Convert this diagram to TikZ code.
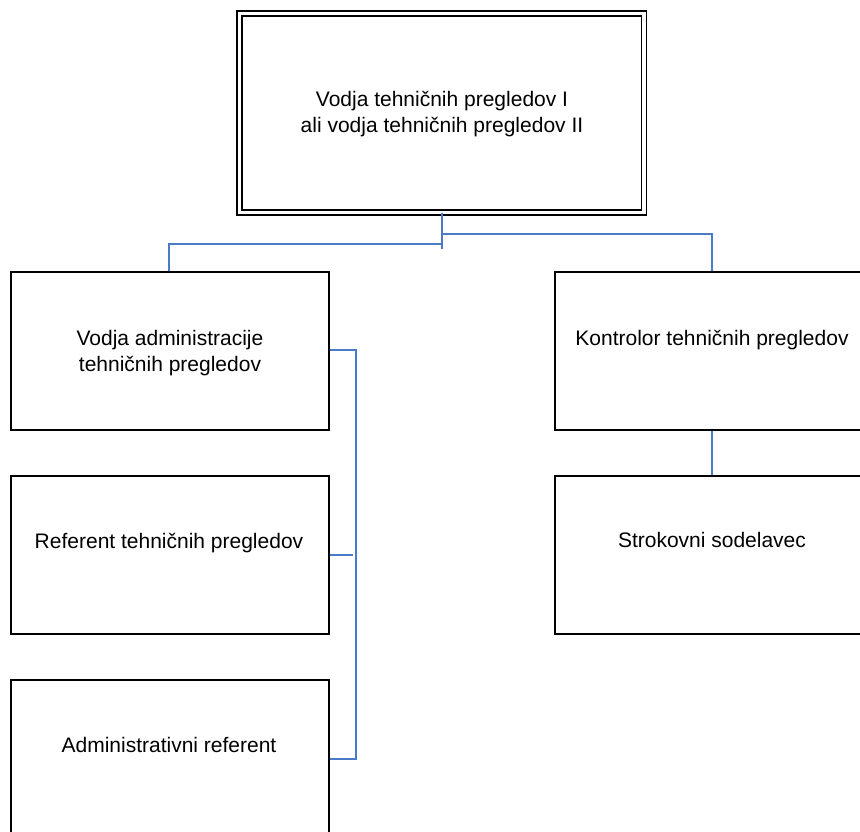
\documentclass[tikz,border=0pt]{standalone}
\usepackage{fontspec}
\setmainfont{Liberation Sans}
\begin{document}
\begin{tikzpicture}[x=1pt,y=-1pt,
  box/.style={draw=black,line width=1.6pt,rectangle,minimum width=318pt,minimum height=158pt,inner sep=0pt,anchor=north west},
  headbox/.style={draw=black,line width=1.4pt,double=white,double distance=3.4pt,rectangle,minimum width=404.5pt,minimum height=199pt,inner sep=0pt},
  label/.style={font=\fontsize{21}{26}\selectfont,inner sep=0pt,anchor=base},
  link/.style={draw=linkblue,line width=1.6pt}]
\definecolor{linkblue}{HTML}{4A7AC8}
\useasboundingbox (0,0) rectangle (860,832);
\begin{scope}
\clip (0,0) rectangle (860,832);

% head of the unit
\node[headbox] (head) at (441.75,113) {};
\node[label] (headtxt) at (442,107) {\begin{tabular}[t]{@{}c@{}}Vodja tehničnih pregledov I\\ ali vodja tehničnih pregledov II\end{tabular}};

% left column
\node[box] (adm) at (10,271) {};
\node[label] (admtxt) at (170,345) {\begin{tabular}[t]{@{}c@{}}Vodja administracije\\ tehničnih pregledov\end{tabular}};
\node[box] (ref) at (10,475) {};
\node[label] (reftxt) at (169,548) {Referent tehničnih pregledov};
\node[box] (aref) at (10,679) {};
\node[label] (areftxt) at (169,752) {Administrativni referent};

% right column
\node[box] (kon) at (554,271) {};
\node[label] (kontxt) at (712,345) {Kontrolor tehničnih pregledov};
\node[box] (str) at (554,475) {};
\node[label] (strtxt) at (712,547) {Strokovni sodelavec};

% connectors
\coordinate (hub) at (head.south);
\coordinate (hubend) at ([yshift=-35.5pt]head.south);
\coordinate (rail) at (356,350);
\draw[link] (hub) -- (hubend);
\draw[link] ([yshift=-30.5pt]head.south) -| (adm.north -| 169,0);
\draw[link] ([yshift=-20.5pt]head.south) -| (kon.north -| 712,0);
\draw[link] (adm.east |- rail) -| (rail |- aref.east) -- (aref.east);
\draw[link] (ref.east) -- ++(23,0);
\draw[link] (kon.south -| 712,0) -- (str.north -| 712,0);
\end{scope}
\end{tikzpicture}
\end{document}
